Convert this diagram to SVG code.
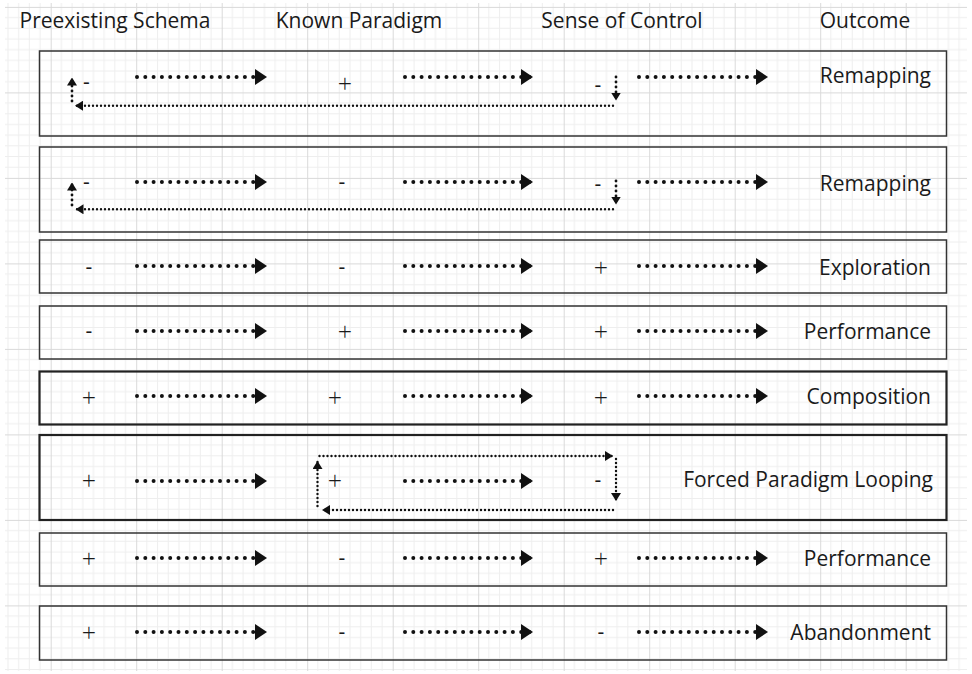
<svg xmlns="http://www.w3.org/2000/svg" width="972" height="674" viewBox="0 0 972 674">
<defs>
<pattern id="grid" x="50.7" y="6.9" width="85.5" height="85.5" patternUnits="userSpaceOnUse">
<path d="M10.69,0V85.5M21.38,0V85.5M32.06,0V85.5M42.75,0V85.5M53.44,0V85.5M64.13,0V85.5M74.81,0V85.5M0,10.69H85.5M0,21.38H85.5M0,32.06H85.5M0,42.75H85.5M0,53.44H85.5M0,64.13H85.5M0,74.81H85.5" stroke="#eeeeee" stroke-width="1" fill="none"/>
<path d="M0.5,0V85.5M0,0.5H85.5" stroke="#d9d9d9" stroke-width="1" fill="none"/>
</pattern>
<marker id="big" viewBox="0 0 12 16" markerWidth="12" markerHeight="16" refX="12" refY="8" orient="auto" markerUnits="userSpaceOnUse">
<path d="M0,0L12,8L0,16z" fill="#111"/>
</marker>
<marker id="small" viewBox="0 0 8 10" markerWidth="8" markerHeight="10" refX="8" refY="5" orient="auto" markerUnits="userSpaceOnUse">
<path d="M0,0L8,5L0,10z" fill="#111"/>
</marker>
</defs>
<style>
text{font-family:"Open Sans","Noto Sans","Liberation Sans",sans-serif;font-size:21px;fill:#1a1a1a}
.h{text-anchor:middle}
.s{text-anchor:middle}
.p{text-anchor:middle;font-size:25px;font-weight:300}
.o{text-anchor:end}
.box{fill:none;stroke:#333;stroke-width:1.5}
.thick{stroke:#222;stroke-width:2.2}
.main{fill:none;stroke:#111;stroke-width:4;stroke-linecap:round;stroke-dasharray:0 8.3;marker-end:url(#big)}
.ret{fill:none;stroke:#111;stroke-width:2.4;stroke-linecap:round;stroke-dasharray:0 4;marker-end:url(#small)}
.vert{fill:none;stroke:#111;stroke-width:2.8;stroke-linecap:round;stroke-dasharray:0 5;marker-end:url(#small)}
</style>
<rect x="0" y="0" width="972" height="674" fill="#fff"/>
<rect x="5" y="3" width="962" height="668" fill="url(#grid)"/>
<g id="headers">
<text class="h" x="115" y="28.3">Preexisting Schema</text>
<text class="h" x="359" y="28.3">Known Paradigm</text>
<text class="h" x="622" y="28.3">Sense of Control</text>
<text class="h" x="865" y="28.3">Outcome</text>
</g>
<g id="row1">
<rect class="box" x="39.5" y="51" width="907" height="85"/>
<text class="s" x="86.5" y="88.5">-</text>
<text class="p" x="345" y="93">+</text>
<text class="s" x="598" y="91.5">-</text>
<text class="o" x="931" y="82.5">Remapping</text>
</g>
<g id="row2">
<rect class="box" x="39.5" y="147" width="907" height="85"/>
<text class="s" x="86.5" y="188.5">-</text>
<text class="s" x="342" y="188.5">-</text>
<text class="s" x="598" y="190.5">-</text>
<text class="o" x="931" y="190.5">Remapping</text>
</g>
<g id="row3">
<rect class="box" x="39.5" y="240" width="907" height="53"/>
<text class="s" x="89" y="273.5">-</text>
<text class="s" x="342" y="273.5">-</text>
<text class="p" x="601" y="277">+</text>
<text class="o" x="931" y="274.5">Exploration</text>
</g>
<g id="row4">
<rect class="box" x="39.5" y="306" width="907" height="53"/>
<text class="s" x="89" y="337.5">-</text>
<text class="p" x="345" y="341">+</text>
<text class="p" x="601" y="341">+</text>
<text class="o" x="931" y="338.5">Performance</text>
</g>
<g id="row5">
<rect class="box thick" x="39.5" y="371.5" width="907" height="53"/>
<text class="p" x="89" y="406.5">+</text>
<text class="p" x="335" y="406.5">+</text>
<text class="p" x="601" y="406.5">+</text>
<text class="o" x="931" y="403.5">Composition</text>
</g>
<g id="row6">
<rect class="box thick" x="39.5" y="435" width="907" height="85"/>
<text class="p" x="89" y="490">+</text>
<text class="p" x="335" y="490">+</text>
<text class="s" x="598" y="486.5">-</text>
<text class="o" x="933" y="487">Forced Paradigm Looping</text>
</g>
<g id="row7">
<rect class="box" x="39.5" y="533" width="907" height="53"/>
<text class="p" x="89" y="568">+</text>
<text class="s" x="342" y="564.5">-</text>
<text class="p" x="601" y="568">+</text>
<text class="o" x="931" y="565.5">Performance</text>
</g>
<g id="row8">
<rect class="box" x="39.5" y="606" width="907" height="54"/>
<text class="p" x="89" y="642">+</text>
<text class="s" x="342" y="638.5">-</text>
<text class="s" x="601" y="638.5">-</text>
<text class="o" x="931" y="639.5">Abandonment</text>
</g>
<g id="connectors">
<path class="main" d="M137,77H267"/><path class="main" d="M405,77H533"/><path class="main" d="M639,77H768"/>
<path class="main" d="M137,182H267"/><path class="main" d="M405,182H533"/><path class="main" d="M639,182H768"/>
<path class="main" d="M137,266H267"/><path class="main" d="M405,266H533"/><path class="main" d="M639,266H768"/>
<path class="main" d="M137,331H267"/><path class="main" d="M405,331H533"/><path class="main" d="M639,331H768"/>
<path class="main" d="M137,396H267"/><path class="main" d="M405,396H533"/><path class="main" d="M639,396H768"/>
<path class="main" d="M137,481H267"/><path class="main" d="M405,481H533"/>
<path class="main" d="M137,558H267"/><path class="main" d="M405,558H533"/><path class="main" d="M639,558H768"/>
<path class="main" d="M137,632H267"/><path class="main" d="M405,632H533"/><path class="main" d="M639,632H768"/>
<path class="vert" d="M616,77V100.5"/>
<path class="ret" d="M613,105.7H75"/>
<path class="vert" d="M72,101V77.5"/>
<path class="vert" d="M616,181V204.5"/>
<path class="ret" d="M613,209.3H75.5"/>
<path class="vert" d="M72,205V182.5"/>
<path class="ret" d="M319.5,456H613"/>
<path class="ret" d="M616,459V501"/>
<path class="ret" d="M613,510H322"/>
<path class="ret" d="M317.5,506V461"/>
</g>
</svg>
